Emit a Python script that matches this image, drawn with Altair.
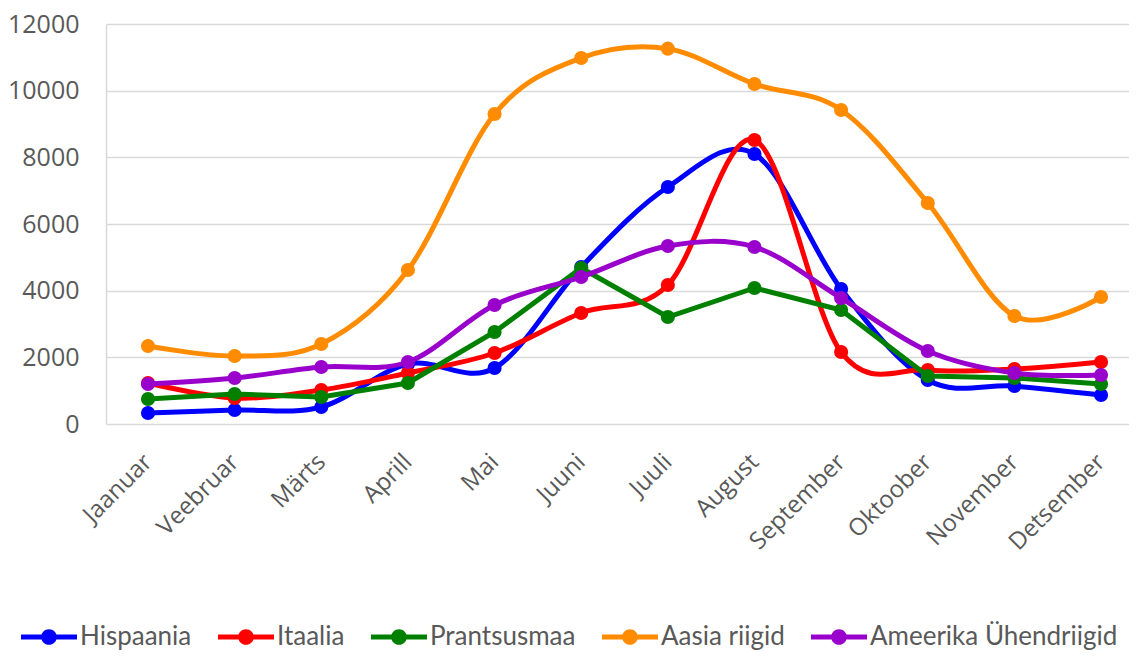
import json
import altair as alt
import pandas as pd

months = ["Jaanuar", "Veebruar", "Märts", "Aprill", "Mai", "Juuni", "Juuli",
          "August", "September", "Oktoober", "November", "Detsember"]
series_names = ["Hispaania", "Itaalia", "Prantsusmaa", "Aasia riigid", "Ameerika Ühendriigid"]
colors = ["#0000ff", "#ff0000", "#008000", "#ff8c00", "#9900cc"]

hispaania = [330, 420, 510, 1800, 1680, 4710, 7110, 8100, 4050, 1320, 1140, 870]
itaalia = [1230, 780, 1020, 1530, 2130, 3330, 4170, 8520, 2160, 1620, 1650, 1860]
prantsusmaa = [750, 900, 810, 1230, 2760, 4680, 3210, 4080, 3420, 1440, 1380, 1200]
aasia = [2340, 2040, 2400, 4620, 9300, 10980, 11260, 10200, 9420, 6630, 3240, 3810]
ameerika = [1200, 1380, 1710, 1860, 3570, 4410, 5340, 5310, 3780, 2190, 1530, 1470]
y_ticks = [0, 2000, 4000, 6000, 8000, 10000, 12000]

smooth = {"Hispaania": "cardinal", "Itaalia": "cardinal", "Prantsusmaa": "linear",
          "Aasia riigid": "cardinal", "Ameerika Ühendriigid": "cardinal"}

rows = []
for name, vals in zip(series_names, [hispaania, itaalia, prantsusmaa, aasia, ameerika]):
    for i, (m, v) in enumerate(zip(months, vals)):
        rows.append({"idx": i, "kuu": m, "sari": name, "väärtus": v})
df = pd.DataFrame(rows)

label_color = "#595959"
grid_color = "#d9d9d9"

x_enc = alt.X(
    "idx:Q",
    scale=alt.Scale(domain=[-0.4848, 11.3227], nice=False, zero=False),
    axis=alt.Axis(
        title=None, values=list(range(12)), grid=False, domain=False, ticks=False,
        labelExpr=json.dumps(months, ensure_ascii=False) + "[datum.value]",
        labelAngle=-45, labelAlign="right", labelBaseline="middle",
        labelPadding=34, labelFont="Open Sans", labelFontSize=24,
        labelColor=label_color, labelOverlap=False,
    ),
)
y_enc = alt.Y(
    "väärtus:Q",
    scale=alt.Scale(domain=[0, 12000], nice=False),
    axis=alt.Axis(
        title=None, values=y_ticks, format="d", grid=True, gridColor=grid_color,
        gridWidth=1.5, domain=True, domainColor=grid_color, domainWidth=1.5,
        ticks=False, labelPadding=27, labelFont="Open Sans", labelFontSize=25,
        labelColor=label_color,
    ),
)

color_scale = alt.Scale(domain=series_names, range=colors)
legend_symbol = ("M-1,-0.09L1,-0.09L1,0.09L-1,0.09Z "
                 "M0.28,0A0.28,0.28,0,1,1,-0.28,0A0.28,0.28,0,1,1,0.28,0Z")

layers = []
base = alt.Chart(df)
for name, col in zip(series_names, colors):
    sub = base.transform_filter(alt.datum["sari"] == name)
    line = sub.mark_line(strokeWidth=5, interpolate=smooth[name], color=col).encode(
        x=x_enc, y=y_enc,
    )
    pts = sub.mark_circle(size=200, opacity=1).encode(
        x=x_enc, y=y_enc,
        fill=alt.Fill(
            "sari:N", scale=color_scale,
            legend=alt.Legend(
                title=None, orient="none", legendX=-85, legendY=585,
                direction="horizontal", columns=5, symbolType=legend_symbol,
                symbolSize=3136, symbolStrokeWidth=0, labelFont="Lato",
                labelFontSize=26, labelColor=label_color, labelOffset=3,
                columnPadding=26, labelLimit=400,
            ),
        ),
    )
    layers += [line, pts]

chart = alt.layer(*layers).properties(
    width=1023, height=400,
    autosize=alt.AutoSizeParams(type="none"),
    padding={"left": 98, "top": 16, "right": 0, "bottom": 227},
).configure_view(stroke=None)

chart.save("out.html", embed_options={"renderer": "svg", "actions": False})
